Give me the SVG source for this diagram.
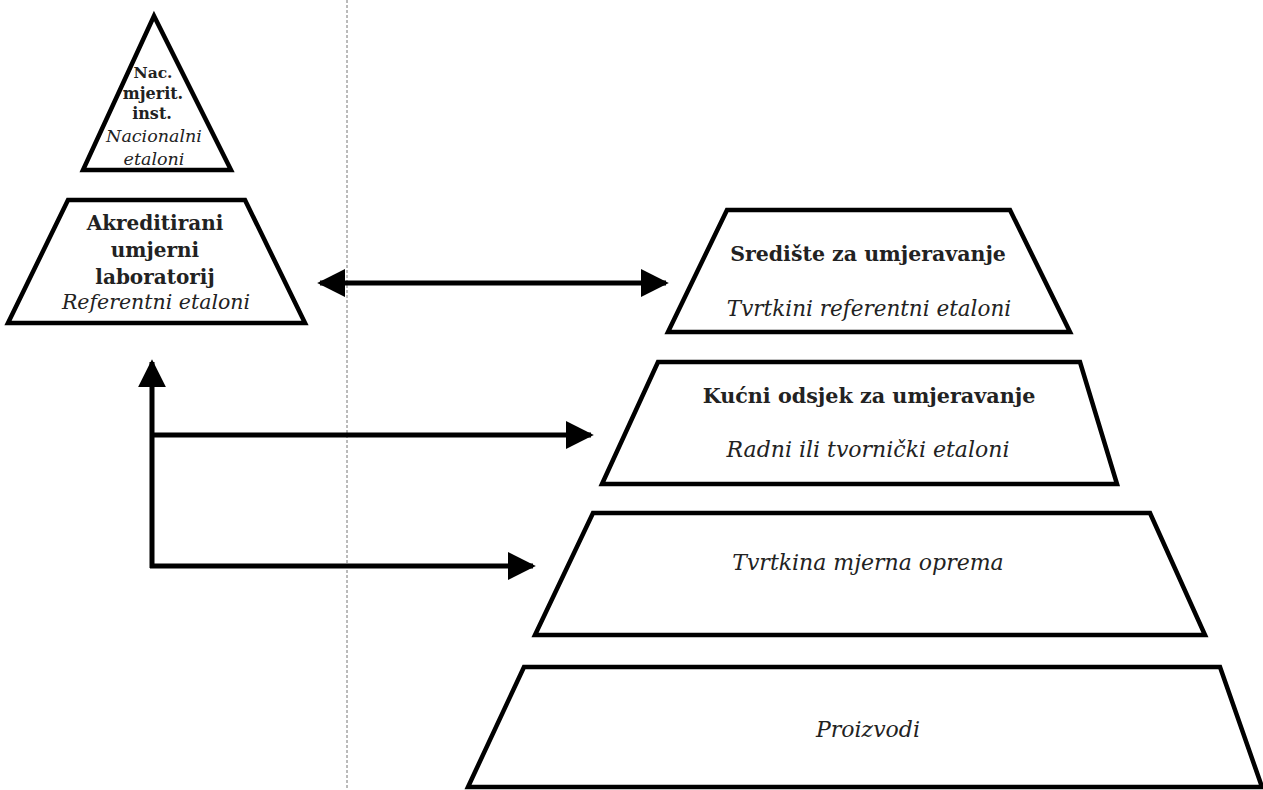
<svg xmlns="http://www.w3.org/2000/svg" width="1263" height="790" viewBox="0 0 1263 790">
<defs>
<style>
.shape{fill:#fff;stroke:#000;stroke-width:4.5;stroke-linejoin:miter}
.b{font-family:"DejaVu Serif","Liberation Serif",serif;font-weight:bold;fill:#222;text-anchor:middle}
.i{font-family:"DejaVu Serif","Liberation Serif",serif;font-style:italic;fill:#222;text-anchor:middle}
.conn{stroke:#000;stroke-width:5;fill:none}
</style>
<marker id="ah" viewBox="0 0 10 10" refX="9" refY="5" markerWidth="5.6" markerHeight="6" markerUnits="strokeWidth" orient="auto-start-reverse">
<path d="M0,0 L10,5 L0,10 Z" fill="#000"/>
</marker>
</defs>
<rect width="1263" height="790" fill="#fff"/>
<line x1="347" y1="0" x2="347" y2="790" stroke="#777" stroke-width="1" stroke-dasharray="3,2"/>
<g id="nac">
<polygon class="shape" points="154,16 83,170 231,170"/>
<text class="b" x="153" y="78" font-size="15.5">Nac.</text>
<text class="b" x="153" y="99" font-size="16">mjerit.</text>
<text class="b" x="152" y="119" font-size="16">inst.</text>
<text class="i" x="154" y="142" font-size="17.5">Nacionalni</text>
<text class="i" x="154" y="165" font-size="17.5">etaloni</text>
</g>
<g id="akred">
<polygon class="shape" points="68,200 245,200 305,323 8,323"/>
<text class="b" x="155" y="230" font-size="20">Akreditirani</text>
<text class="b" x="155" y="257" font-size="20">umjerni</text>
<text class="b" x="155" y="284" font-size="20">laboratorij</text>
<text class="i" x="156" y="309" font-size="20.5">Referentni etaloni</text>
</g>
<g id="srediste">
<polygon class="shape" points="727,210 1010,210 1070,332 668,332"/>
<text class="b" x="868" y="261" font-size="20.5">Središte za umjeravanje</text>
<text class="i" x="869" y="316" font-size="21.5">Tvrtkini referentni etaloni</text>
</g>
<g id="kucni">
<polygon class="shape" points="658,362 1080,362 1117,484 602,484"/>
<text class="b" x="869" y="403" font-size="20.7">Kućni odsjek za umjeravanje</text>
<text class="i" x="868" y="457" font-size="22">Radni ili tvornički etaloni</text>
</g>
<g id="oprema">
<polygon class="shape" points="593,513 1150,513 1205,635 535,635"/>
<text class="i" x="868" y="570" font-size="22">Tvrtkina mjerna oprema</text>
</g>
<g id="proizvodi">
<polygon class="shape" points="524,667 1220,667 1262,787 468,787"/>
<text class="i" x="868" y="737" font-size="22">Proizvodi</text>
</g>
<g id="connectors">
<line class="conn" x1="320" y1="283" x2="666" y2="283" marker-start="url(#ah)" marker-end="url(#ah)"/>
<line class="conn" x1="152" y1="568" x2="152" y2="362" marker-end="url(#ah)"/>
<line class="conn" x1="150" y1="435" x2="591" y2="435" marker-end="url(#ah)"/>
<line class="conn" x1="150" y1="566" x2="533" y2="566" marker-end="url(#ah)"/>
</g>
</svg>
